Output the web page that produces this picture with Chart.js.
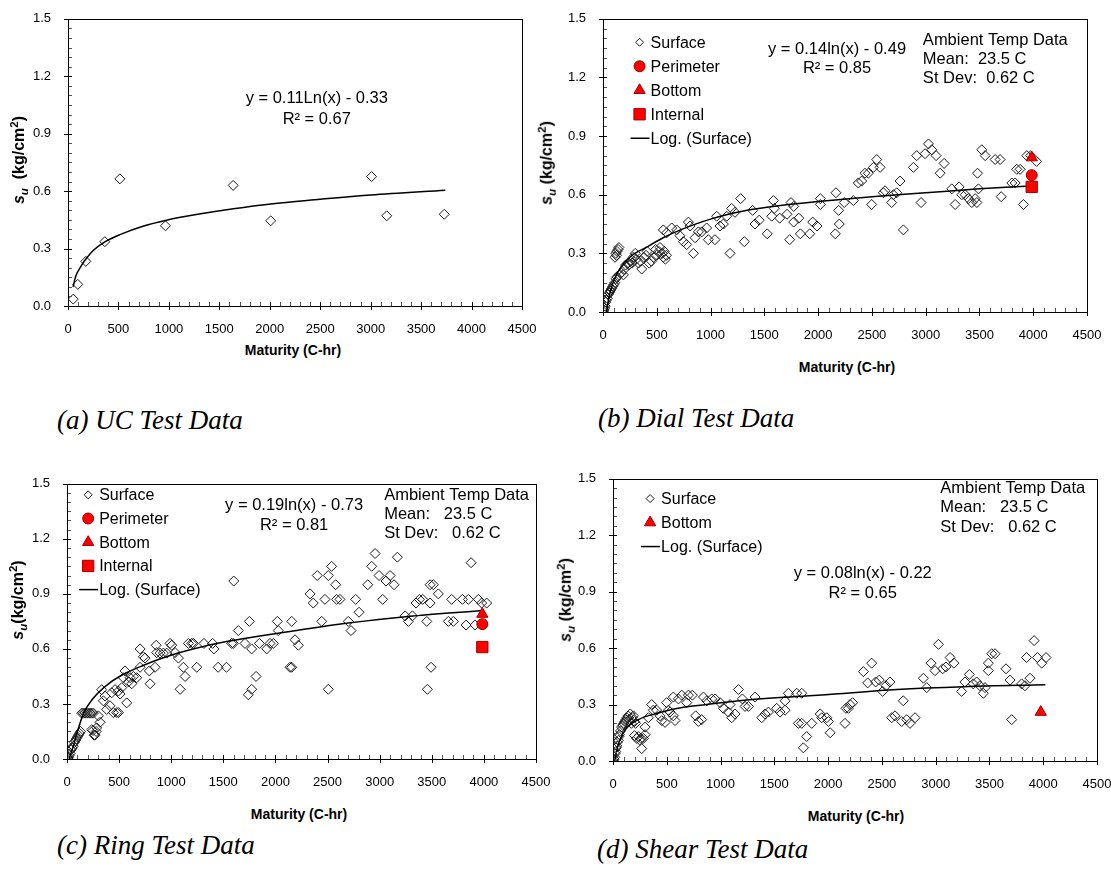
<!DOCTYPE html>
<html>
<head>
<meta charset="utf-8">
<script src="https://cdn.jsdelivr.net/npm/chart.js@4.4.0/dist/chart.umd.min.js"></script>
<style>
  html, body { margin: 0; padding: 0; background: #fff; width: 1111px; height: 872px; overflow: hidden; }
  canvas { position: absolute; }
  .ytitle { position: absolute; transform: translate(-50%, -50%) rotate(-90deg); font: bold 16px "Liberation Sans", Arial, sans-serif; white-space: pre; }
  .xtitle { position: absolute; transform: translate(-50%, -50%); font: bold 14px "Liberation Sans", Arial, sans-serif; white-space: pre; }
  .caption { position: absolute; transform: translateY(-50%); font: italic 27px "Liberation Serif", "Times New Roman", serif; white-space: pre; }
  sub, sup { font-size: 72%; }
</style>
</head>
<body>
<canvas id="chartA"></canvas>
<canvas id="chartB"></canvas>
<canvas id="chartC"></canvas>
<canvas id="chartD"></canvas>

<div class="ytitle" style="left:19px;top:160px"><i>s<sub>u</sub></i>  (kg/cm<sup>2</sup>)</div>
<div class="ytitle" style="left:547px;top:163px"><i>s<sub>u</sub></i> (kg/cm<sup>2</sup>)</div>
<div class="ytitle" style="left:18px;top:600px"><i>s<sub>u</sub></i>(kg/cm<sup>2</sup>)</div>
<div class="ytitle" style="left:566px;top:600px"><i>s<sub>u</sub></i> (kg/cm<sup>2</sup>)</div>

<div class="xtitle" style="left:293px;top:350px">Maturity (C-hr)</div>
<div class="xtitle" style="left:847px;top:367px">Maturity (C-hr)</div>
<div class="xtitle" style="left:299px;top:814px">Maturity (C-hr)</div>
<div class="xtitle" style="left:856px;top:816px">Maturity (C-hr)</div>

<div class="caption" style="left:57px;top:420px">(a) UC Test Data</div>
<div class="caption" style="left:598px;top:418px">(b) Dial Test Data</div>
<div class="caption" style="left:57px;top:845px">(c) Ring Test Data</div>
<div class="caption" style="left:597px;top:849px">(d) Shear Test Data</div>

<script>
// ---- data: [maturity (C-hr), su (kg/cm2)] ----
const ucSurface = [[52,0.036],[97,0.113],[177,0.233],[365,0.336],[514,0.664],[966,0.419],[1637,0.63],[2009,0.445],[3009,0.676],[3159,0.471],[3729,0.479]];
const ucTrend = [[50,0.10],[80,0.16],[120,0.20],[170,0.24],[250,0.29],[365,0.335],[515,0.373],[750,0.418],[966,0.447],[1300,0.48],[1640,0.508],[2010,0.533],[2500,0.557],[3000,0.58],[3740,0.605]];

const dialSurface = [
  [5,0],[10,0.01],[15,0.02],[20,0.03],[25,0.05],[30,0.06],[40,0.07],[50,0.09],[60,0.10],[70,0.11],[80,0.12],[90,0.13],[100,0.14],[110,0.15],[120,0.17],[130,0.18],[150,0.19],[170,0.20],[190,0.19],[200,0.22],[210,0.24],[230,0.25],
  [112,0.28],[120,0.30],[130,0.31],[140,0.32],[148,0.33],[125,0.29],
  [240,0.24],[260,0.26],[270,0.25],[280,0.28],[300,0.30],[310,0.27],[330,0.25],[350,0.26],[360,0.22],[380,0.28],[400,0.29],[410,0.31],[430,0.25],[450,0.26],[470,0.28],[490,0.32],[500,0.29],[520,0.31],[530,0.33],[550,0.30],[560,0.28],[570,0.31],[580,0.27],[590,0.29],
  [561,0.42],[592,0.405],[639,0.43],[685,0.42],[716,0.39],[747,0.36],[778,0.345],[794,0.46],[810,0.44],[840,0.30],[856,0.38],[887,0.41],[918,0.41],[964,0.43],[979,0.37],[1041,0.37],[1057,0.49],[1088,0.44],[1119,0.45],[1150,0.49],[1181,0.30],[1196,0.53],[1227,0.51],[1280,0.58],[1314,0.36],[1391,0.52],[1413,0.45],[1453,0.47],[1527,0.40],[1569,0.49],[1584,0.57],[1593,0.53],[1643,0.48],[1711,0.50],[1736,0.37],[1748,0.56],[1773,0.54],[1773,0.46],[1820,0.48],[1835,0.40],[1922,0.40],[1950,0.46],[1990,0.44],[2021,0.58],[2021,0.55],[2160,0.40],[2166,0.61],[2191,0.52],[2197,0.45],[2243,0.56],
  [2328,0.57],[2374,0.66],[2405,0.67],[2436,0.71],[2467,0.71],[2498,0.55],[2514,0.74],[2545,0.78],[2576,0.74],[2607,0.61],[2622,0.62],[2684,0.56],[2700,0.60],[2731,0.61],[2762,0.67],[2793,0.42],[2886,0.74],[2917,0.80],[2957,0.56],[2994,0.81],[3026,0.86],[3057,0.83],[3097,0.80],[3134,0.71],[3171,0.76],[3243,0.63],[3274,0.55],[3311,0.64],[3336,0.60],[3367,0.60],[3398,0.58],[3429,0.56],[3460,0.58],[3476,0.56],[3482,0.71],[3491,0.63],[3522,0.83],[3553,0.80],[3646,0.78],[3692,0.78],[3702,0.59],[3801,0.66],[3832,0.66],[3847,0.73],[3878,0.73],[3909,0.55],[3940,0.80],[3977,0.80],[4032,0.77]
];
const dialPerimeter = [[3986,0.70]];
const dialBottom = [[3986,0.79]];
const dialInternal = [[3986,0.64]];
const dialTrend = [[33,0],[50,0.06],[100,0.16],[250,0.28],[400,0.33],[560,0.38],[720,0.42],[1000,0.475],[1340,0.52],[1650,0.545],[2000,0.565],[2500,0.59],[3000,0.61],[3500,0.63],[3990,0.645]];

const ringSurface = [
  [5,0],[10,0.005],[15,0.01],[20,0.02],[30,0.03],[40,0.05],[50,0.06],[60,0.07],[70,0.09],[80,0.10],[90,0.11],[100,0.12],[110,0.13],[120,0.14],[130,0.15],
  [141,0.25],[157,0.25],[173,0.25],[189,0.25],[205,0.25],[221,0.25],[237,0.25],[253,0.25],
  [237,0.16],[250,0.155],[260,0.13],[269,0.13],[280,0.15],[285,0.17],[301,0.235],[317,0.20],
  [333,0.378],[349,0.317],[365,0.343],[381,0.27],[413,0.29],[429,0.361],[445,0.253],[461,0.378],[477,0.253],[493,0.253],[493,0.37],[509,0.354],[525,0.389],[541,0.443],[557,0.48],[573,0.306],[589,0.42],[605,0.443],[621,0.41],[637,0.45],[669,0.443],[701,0.50],[701,0.60],[733,0.557],[749,0.55],[790,0.48],[797,0.41],[845,0.50],[855,0.62],[861,0.58],[893,0.577],[925,0.577],[957,0.577],[989,0.63],[1005,0.62],[1037,0.58],[1069,0.55],[1085,0.38],[1117,0.50],[1133,0.45],[1165,0.63],[1197,0.63],[1213,0.63],[1245,0.50],[1314,0.63],[1397,0.63],[1410,0.60],[1450,0.50],[1530,0.50],[1580,0.63],[1596,0.63],[1600,0.97],[1644,0.70],[1708,0.63],[1740,0.35],[1750,0.75],[1772,0.38],[1772,0.60],[1814,0.45],[1846,0.63],[1916,0.60],[1948,0.63],[1980,0.63],[2018,0.75],[2027,0.70],[2140,0.50],
  [2156,0.75],[2156,0.50],[2188,0.65],[2220,0.62],[2332,0.90],[2363,0.85],[2401,1.00],[2444,0.75],[2475,0.87],[2507,1.00],[2507,0.38],[2539,1.05],[2578,0.95],[2587,0.87],[2619,0.87],[2699,0.75],[2725,0.70],[2770,0.87],[2802,0.80],[2886,0.95],[2924,1.05],[2956,1.12],[2994,1.00],[3029,0.87],[3061,0.97],[3100,1.00],[3138,0.95],[3170,1.10],[3244,0.78],[3276,0.75],[3314,0.78],[3349,0.85],[3381,0.87],[3413,0.87],[3452,0.75],[3458,0.38],[3484,0.85],[3484,0.95],[3493,0.50],[3515,0.95],[3563,0.90],[3659,0.75],[3691,0.87],[3707,0.75],[3794,0.87],[3829,0.73],[3851,0.87],[3877,1.07],[3915,0.73],[3947,0.87],[3979,0.85],[4027,0.85]
];
const ringPerimeter = [[3985,0.735]];
const ringBottom = [[3985,0.79]];
const ringInternal = [[3985,0.61]];
const ringTrend = [[20,0],[50,0.05],[100,0.15],[160,0.25],[250,0.33],[410,0.415],[570,0.47],[730,0.51],[890,0.545],[1050,0.575],[1210,0.60],[1530,0.64],[1850,0.67],[2140,0.695],[2680,0.74],[3320,0.78],[4000,0.81]];

const shearSurface = [
  [5,0],[10,0.01],[15,0.02],[20,0.04],[25,0.05],[30,0.07],[35,0.08],[40,0.10],[50,0.11],[55,0.13],[60,0.14],[70,0.16],[80,0.18],[90,0.19],[100,0.20],[110,0.21],[120,0.22],[130,0.23],[140,0.24],[150,0.22],[160,0.25],[170,0.20],[180,0.23],[190,0.24],[200,0.21],[210,0.20],
  [200,0.135],[220,0.12],[236,0.13],[251,0.11],[260,0.12],[267,0.066],[282,0.12],[298,0.14],[298,0.18],
  [329,0.23],[360,0.30],[375,0.27],[406,0.27],[437,0.24],[453,0.215],[484,0.205],[499,0.31],[515,0.27],[530,0.26],[561,0.24],[577,0.215],[561,0.34],[608,0.33],[639,0.35],[686,0.31],[701,0.35],[738,0.35],[769,0.24],[794,0.21],[825,0.22],[841,0.34],[872,0.32],[918,0.33],[949,0.33],[996,0.31],[1026,0.28],[1073,0.26],[1088,0.30],[1104,0.23],[1135,0.25],[1166,0.38],[1203,0.33],[1228,0.29],[1259,0.29],[1321,0.34],[1383,0.23],[1414,0.25],[1445,0.26],[1522,0.28],[1553,0.26],[1600,0.27],[1600,0.32],[1631,0.36],[1708,0.36],[1755,0.36],[1724,0.20],[1755,0.20],[1770,0.07],[1801,0.13],[1848,0.20],[1926,0.25],[1941,0.23],[1988,0.23],[2003,0.21],[2019,0.15],
  [2157,0.20],[2166,0.28],[2188,0.28],[2204,0.30],[2228,0.31],[2328,0.475],[2368,0.415],[2405,0.52],[2442,0.42],[2476,0.43],[2507,0.37],[2538,0.40],[2575,0.42],[2591,0.23],[2622,0.24],[2684,0.21],[2699,0.32],[2731,0.22],[2761,0.20],[2808,0.23],[2886,0.44],[2917,0.39],[2957,0.52],[2994,0.48],[3026,0.62],[3065,0.49],[3096,0.50],[3134,0.55],[3170,0.52],[3241,0.37],[3272,0.42],[3313,0.46],[3350,0.41],[3381,0.42],[3412,0.40],[3443,0.36],[3459,0.39],[3490,0.52],[3490,0.48],[3521,0.57],[3552,0.57],[3654,0.49],[3691,0.43],[3707,0.22],[3799,0.41],[3830,0.40],[3845,0.55],[3877,0.44],[3915,0.64],[3946,0.55],[3986,0.52],[4026,0.55]
];
const shearBottom = [[3977,0.26]];
const shearTrend = [[16,0],[40,0.07],[70,0.12],[120,0.17],[236,0.22],[420,0.255],[580,0.278],[870,0.30],[1170,0.32],[1480,0.335],[1790,0.345],[2060,0.356],[2640,0.38],[3260,0.395],[4020,0.405]];

const xTicks = [0, 500, 1000, 1500, 2000, 2500, 3000, 3500, 4000, 4500];
const yTicks = [0.0, 0.3, 0.6, 0.9, 1.2, 1.5];

const FONT = '"Liberation Sans", Arial, sans-serif';

// plot boxes on the page (chart area edges, px)
const boxA = { l: 68, t: 14, r: 522, b: 306 };
const boxB = { l: 603, t: 14, r: 1087, b: 312 };
const boxC = { l: 67, t: 479, r: 536, b: 759 };
const boxD = { l: 613, t: 474, r: 1097, b: 761 };

const toXY = arr => arr.map(p => ({ x: p[0], y: p[1] }));

function surfaceSet(arr) {
  return { label: 'Surface', data: toXY(arr), pointStyle: 'rectRot', pointRadius: 5, borderWidth: 1,
    borderColor: '#1a1a1a', backgroundColor: 'rgba(255,255,255,0)', legendRadius: 4, order: 3 };
}
function trendSet(arr) {
  return { label: 'Log. (Surface)', data: toXY(arr), showLine: true, pointRadius: 0, borderColor: '#000',
    borderWidth: 1.5, cubicInterpolationMode: 'monotone', order: 2, isLine: true };
}
function redSet(label, arr, style, r) {
  return { label: label, data: toXY(arr), pointStyle: style, pointRadius: r, borderWidth: 1,
    borderColor: '#a00000', backgroundColor: '#ff0000', legendRadius: r, order: 1 };
}

// frame, ticks, legend and text notes
const panelDecor = {
  id: 'panelDecor',
  afterDatasetsDraw(chart, args, opts) {
    const { ctx, chartArea: a } = chart;
    const xs = chart.scales.x, ys = chart.scales.y;
    ctx.save();
    ctx.lineWidth = 1;
    for (let v = 0; v <= 4500; v += 100) {
      const px = Math.round(xs.getPixelForValue(v)) + 0.5;
      const major = v % 500 === 0;
      ctx.strokeStyle = major ? '#000' : '#555';
      ctx.beginPath();
      ctx.moveTo(px, a.bottom + (major ? 4 : 0));
      ctx.lineTo(px, a.bottom - 4);
      ctx.stroke();
    }
    for (let i = 0; i <= 30; i++) {
      const py = Math.round(ys.getPixelForValue(i * 0.05)) + 0.5;
      const major = i % 6 === 0;
      ctx.strokeStyle = major ? '#000' : '#555';
      ctx.beginPath();
      ctx.moveTo(a.left - (major ? 4 : 0), py);
      ctx.lineTo(a.left + 4, py);
      ctx.stroke();
    }
    ctx.strokeStyle = '#000';
    ctx.strokeRect(Math.round(a.left) + 0.5, Math.round(a.top) + 0.5,
      Math.round(a.right - a.left), Math.round(a.bottom - a.top));

    ctx.fillStyle = '#000';
    ctx.font = '16.5px ' + FONT;
    ctx.textBaseline = 'middle';
    (opts.notes || []).forEach(n => {
      ctx.textAlign = n.align || 'left';
      ctx.fillText(n.text, xs.getPixelForValue(n.x), ys.getPixelForValue(n.y) - 2);
    });

    const lg = opts.legend;
    if (lg) {
      ctx.font = '16px ' + FONT;
      const mx = xs.getPixelForValue(lg.x);
      let my = ys.getPixelForValue(lg.y);
      lg.items.forEach(idx => {
        const ds = chart.data.datasets[idx];
        if (ds.isLine) {
          ctx.strokeStyle = '#000';
          ctx.lineWidth = 1.5;
          ctx.beginPath();
          ctx.moveTo(mx - 9, my);
          ctx.lineTo(mx + 10, my);
          ctx.stroke();
          ctx.lineWidth = 1;
        } else {
          ctx.fillStyle = ds.backgroundColor;
          ctx.strokeStyle = ds.borderColor;
          ctx.lineWidth = 1;
          Chart.helpers.drawPoint(ctx, { pointStyle: ds.pointStyle, radius: ds.legendRadius, rotation: 0, borderWidth: 1 }, mx, my);
        }
        ctx.fillStyle = '#000';
        ctx.textAlign = 'left';
        ctx.fillText(ds.label, mx + 11, my + 1);
        my += lg.step;
      });
    }
    ctx.restore();
  }
};

function makeChart(id, box, datasets, decor) {
  const padL = 60, padT = 12, padR = 35, padB = 32;
  const cv = document.getElementById(id);
  cv.width = box.r - box.l + padL + padR;
  cv.height = box.b - box.t + padT + padB;
  cv.style.left = (box.l - padL) + 'px';
  cv.style.top = (box.t - padT) + 'px';
  return new Chart(cv, {
    type: 'scatter',
    data: { datasets: datasets },
    options: {
      responsive: false,
      animation: false,
      devicePixelRatio: 1,
      layout: { padding: { left: 0, top: padT, right: padR, bottom: 0 } },
      plugins: { legend: { display: false }, tooltip: { enabled: false }, panelDecor: decor },
      scales: {
        x: {
          type: 'linear', min: 0, max: 4500,
          afterFit: s => { s.height = padB; },
          afterBuildTicks: s => { s.ticks = xTicks.map(v => ({ value: v })); },
          grid: { display: false }, border: { display: false },
          ticks: { color: '#000', font: { family: FONT, size: 13 }, padding: 8, maxRotation: 0, autoSkip: false,
            callback: v => String(v) }
        },
        y: {
          type: 'linear', min: 0, max: 1.5,
          afterFit: s => { s.width = padL; },
          afterBuildTicks: s => { s.ticks = yTicks.map(v => ({ value: v })); },
          grid: { display: false }, border: { display: false },
          ticks: { color: '#000', font: { family: FONT, size: 13 }, padding: 9, autoSkip: false,
            callback: v => Number(v).toFixed(1) }
        }
      }
    },
    plugins: [panelDecor]
  });
}

makeChart('chartA', boxA, [surfaceSet(ucSurface), trendSet(ucTrend)], {
  notes: [
    { x: 2466, y: 1.075, text: 'y = 0.11Ln(x) - 0.33', align: 'center' },
    { x: 2466, y: 0.964, text: 'R\u00B2 = 0.67', align: 'center' }
  ]
});

makeChart('chartB', boxB, [
  surfaceSet(dialSurface),
  redSet('Perimeter', dialPerimeter, 'circle', 5.5),
  redSet('Bottom', dialBottom, 'triangle', 6.5),
  redSet('Internal', dialInternal, 'rect', 8),
  trendSet(dialTrend)
], {
  legend: { x: 340, y: 1.38, step: 24, items: [0, 1, 2, 3, 4] },
  notes: [
    { x: 2176, y: 1.333, text: 'y = 0.14ln(x) - 0.49', align: 'center' },
    { x: 2176, y: 1.237, text: 'R\u00B2 = 0.85', align: 'center' },
    { x: 2974, y: 1.38, text: 'Ambient Temp Data' },
    { x: 2974, y: 1.283, text: 'Mean:  23.5 C' },
    { x: 2974, y: 1.183, text: 'St Dev:  0.62 C' }
  ]
});

makeChart('chartC', boxC, [
  surfaceSet(ringSurface),
  redSet('Perimeter', ringPerimeter, 'circle', 5.5),
  redSet('Bottom', ringBottom, 'triangle', 6.5),
  redSet('Internal', ringInternal, 'rect', 8),
  trendSet(ringTrend)
], {
  legend: { x: 203, y: 1.44, step: 23.7, items: [0, 1, 2, 3, 4] },
  notes: [
    { x: 2179, y: 1.37, text: 'y = 0.19ln(x) - 0.73', align: 'center' },
    { x: 2179, y: 1.264, text: 'R\u00B2 = 0.81', align: 'center' },
    { x: 3043, y: 1.425, text: 'Ambient Temp Data' },
    { x: 3043, y: 1.323, text: 'Mean:   23.5 C' },
    { x: 3043, y: 1.219, text: 'St Dev:   0.62 C' }
  ]
});

makeChart('chartD', boxD, [
  surfaceSet(shearSurface),
  redSet('Bottom', shearBottom, 'triangle', 6.5),
  trendSet(shearTrend)
], {
  legend: { x: 345, y: 1.395, step: 24, items: [0, 1, 2] },
  notes: [
    { x: 2322, y: 0.984, text: 'y = 0.08ln(x) - 0.22', align: 'center' },
    { x: 2322, y: 0.88, text: 'R\u00B2 = 0.65', align: 'center' },
    { x: 3043, y: 1.44, text: 'Ambient Temp Data' },
    { x: 3043, y: 1.336, text: 'Mean:   23.5 C' },
    { x: 3043, y: 1.232, text: 'St Dev:   0.62 C' }
  ]
});
</script>
</body>
</html>
